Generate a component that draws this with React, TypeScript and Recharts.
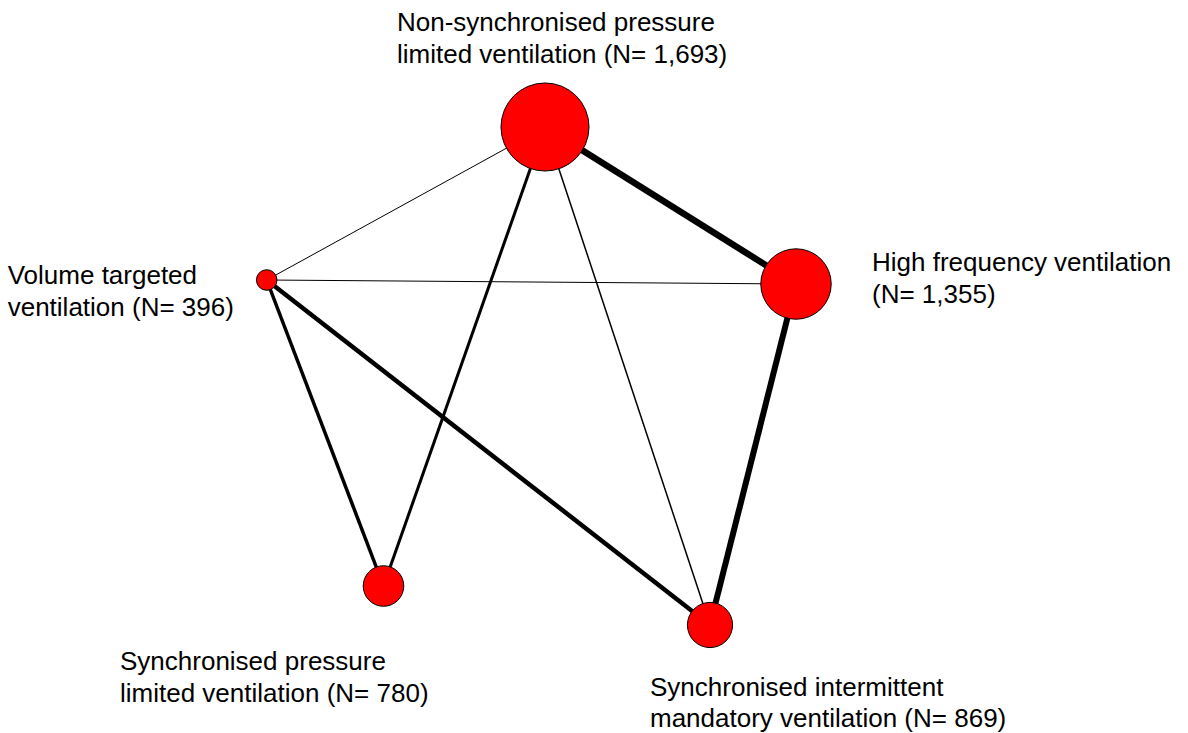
import React from 'react';
import { ScatterChart, Scatter, XAxis, YAxis } from 'recharts';

// Treatments (nodes)
const treatmentIds = ['NSPLV', 'HFV', 'SIMV', 'SPLV', 'VTV'];
const treatmentLabels: string[][] = [
  ['Non-synchronised pressure', 'limited ventilation (N= 1,693)'],
  ['High frequency ventilation', '(N= 1,355)'],
  ['Synchronised intermittent', 'mandatory ventilation (N= 869)'],
  ['Synchronised pressure', 'limited ventilation (N= 780)'],
  ['Volume targeted', 'ventilation (N= 396)'],
];
const patients = [1693, 1355, 869, 780, 396];
// Network layout coordinates
const layoutX = [545, 796, 710, 383.5, 266.7];
const layoutY = [127, 284, 625, 586, 280];

// Comparisons (edges)
const edgeFrom = ['NSPLV', 'HFV', 'VTV', 'VTV', 'NSPLV', 'NSPLV', 'NSPLV', 'VTV'];
const edgeTo = ['HFV', 'SIMV', 'SIMV', 'SPLV', 'SPLV', 'SIMV', 'VTV', 'HFV'];
const edgeStudies = [13, 12, 9, 7, 6, 3, 2, 2];

// Styling (not data)
const W = 1188;
const H = 733;
const RADIUS_PER_PATIENT = 0.026;
const WIDTH_PER_STUDY = 0.5;
const FONT = '"Liberation Sans", Arial, sans-serif';
const FONT_SIZE = 26;
const LINE_GAP = 32;
const labelOffsets: Record<string, [number, number, number]> = {
  NSPLV: [-148, -96, LINE_GAP],
  HFV: [76, -13, LINE_GAP],
  SIMV: [-60, 71, 31],
  SPLV: [-263.5, 84, LINE_GAP],
  VTV: [-259, 4, LINE_GAP],
};

const nodes = treatmentIds.map((id, i) => ({
  id,
  x: layoutX[i],
  y: layoutY[i],
  n: patients[i],
  label: treatmentLabels[i],
}));

const edges = edgeFrom.map((f, i) => {
  const a = nodes.find((n) => n.id === f)!;
  const b = nodes.find((n) => n.id === edgeTo[i])!;
  return {
    key: `${f}-${edgeTo[i]}`,
    studies: edgeStudies[i],
    data: [
      { x: a.x, y: a.y },
      { x: b.x, y: b.y },
    ],
  };
});

const NodeShape = (props: any) => {
  const { cx, cy, payload } = props;
  const r = payload.n * RADIUS_PER_PATIENT;
  const [dx, dy, gap] = labelOffsets[payload.id];
  return (
    <g>
      <circle cx={cx} cy={cy} r={r} fill="#ff0000" stroke="#000" strokeWidth={1} />
      {payload.label.map((t: string, i: number) => (
        <text
          key={i}
          x={cx + dx}
          y={cy + dy + i * gap}
          fontFamily={FONT}
          fontSize={FONT_SIZE}
          fill="#000"
        >
          {t}
        </text>
      ))}
    </g>
  );
};

const Empty = () => <g />;

export default function App() {
  return (
    <div style={{ position: 'absolute', left: 0, top: 0, width: W, height: H, background: '#fff' }}>
      <ScatterChart width={W} height={H} margin={{ top: 0, right: 0, bottom: 0, left: 0 }}>
        <XAxis type="number" dataKey="x" domain={[0, W]} hide allowDataOverflow />
        <YAxis type="number" dataKey="y" domain={[0, H]} reversed hide allowDataOverflow />
        {edges.map((e) => (
          <Scatter
            key={e.key}
            data={e.data}
            line={{ stroke: '#000', strokeWidth: e.studies * WIDTH_PER_STUDY }}
            shape={Empty}
            fill="#000"
            isAnimationActive={false}
            legendType="none"
          />
        ))}
        <Scatter data={nodes} shape={NodeShape} fill="#ff0000" isAnimationActive={false} />
      </ScatterChart>
    </div>
  );
}
